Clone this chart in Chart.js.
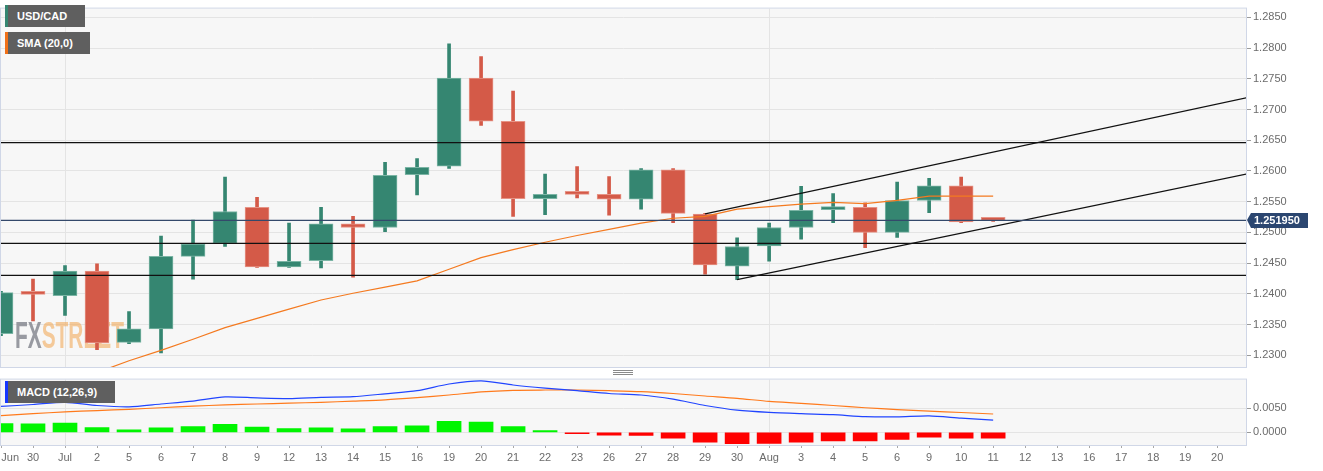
<!DOCTYPE html>
<html>
<head>
<meta charset="utf-8">
<script src="https://cdn.jsdelivr.net/npm/chart.js@4.4.1/dist/chart.umd.min.js"></script>
<style>
  body { margin: 0; background: #fff; }
  #wrap { position: relative; width: 1323px; height: 471px; overflow: hidden; }
  canvas { position: absolute; left: 0; }
  #main { top: 0; }
  #macd { top: 371px; }
  .tag {
    position: absolute; height: 22px; box-sizing: border-box;
    background: #5f5f5f; color: #fff; font: bold 11px "Liberation Sans", Arial, sans-serif;
    line-height: 22px; padding-left: 9px; border-left: 3px solid;
  }
</style>
</head>
<body>
<div id="wrap">
  <canvas id="main" width="1323" height="376"></canvas>
  <canvas id="macd" width="1323" height="100"></canvas>
  <div class="tag" style="left:5px;top:5px;width:80px;border-left-color:#358671">USD/CAD</div>
  <div class="tag" style="left:5px;top:32px;width:85px;border-left-color:#f07018">SMA (20,0)</div>
  <div class="tag" style="left:5px;top:381px;width:110px;border-left-color:#1536ff">MACD (12,26,9)</div>
</div>
<script>
// date labels along the bottom axis (one per trading day slot)
const dayLabels = ['Jun', '30', 'Jul', '2', '5', '6', '7', '8', '9', '12', '13', '14', '15', '16', '19', '20',
  '21', '22', '23', '26', '27', '28', '29', '30', 'Aug', '3', '4', '5', '6', '9', '10', '11', '12', '13',
  '16', '17', '18', '19', '20'];

// USD/CAD daily candles (Jun 29 .. Aug 11)
const opens  = [1.2335, 1.2402, 1.2397, 1.2437, 1.2321, 1.2343, 1.2461, 1.2482, 1.2541, 1.2444, 1.2454,
  1.2514, 1.2508, 1.2594, 1.2608, 1.2751, 1.2681, 1.2555, 1.2566, 1.2562, 1.2554, 1.2602, 1.2530, 1.2445,
  1.2478, 1.2508, 1.2537, 1.2541, 1.2500, 1.2552, 1.2576, 1.2521];
const highs  = [1.2404, 1.2424, 1.2446, 1.2449, 1.2371, 1.2494, 1.2520, 1.2590, 1.2557, 1.2515, 1.2541,
  1.2526, 1.2614, 1.2620, 1.2807, 1.2786, 1.2730, 1.2595, 1.2607, 1.2591, 1.2604, 1.2604, 1.2531, 1.2491,
  1.2515, 1.2575, 1.2563, 1.2548, 1.2582, 1.2588, 1.2590, 1.2522];
const lows   = [1.2332, 1.2356, 1.2365, 1.2309, 1.2319, 1.2304, 1.2424, 1.2477, 1.2443, 1.2443, 1.2442,
  1.2427, 1.2501, 1.2561, 1.2604, 1.2674, 1.2526, 1.2529, 1.2556, 1.2528, 1.2538, 1.2516, 1.2432, 1.2423,
  1.2453, 1.2489, 1.2516, 1.2475, 1.2492, 1.2532, 1.2516, 1.2518];
const closes = [1.2402, 1.2399, 1.2437, 1.2320, 1.2343, 1.2461, 1.2481, 1.2534, 1.2444, 1.2453, 1.2514,
  1.2508, 1.2593, 1.2606, 1.2751, 1.2681, 1.2555, 1.2562, 1.2562, 1.2554, 1.2602, 1.2531, 1.2447, 1.2477,
  1.2508, 1.2536, 1.2541, 1.2500, 1.2552, 1.2576, 1.2517, 1.25195];

// SMA (20)
const sma20 = [1.2255, 1.2260, 1.2266, 1.2272, 1.2291, 1.2308, 1.2326, 1.2345, 1.2360, 1.2375, 1.2390,
  1.2401, 1.2411, 1.2421, 1.2440, 1.2459, 1.2472, 1.2484, 1.2495, 1.2505, 1.2515, 1.2523, 1.2526, 1.2538,
  1.2542, 1.2546, 1.2549, 1.2547, 1.2552, 1.2559, 1.2559, 1.2559];

const lastPrice = 1.25195;
const levels = [1.2646, 1.2482, 1.2430];
// channel lines: [start index, start value, end index, end value]
const channelUpper = [22, 1.2530, 39, 1.2720];
const channelLower = [23, 1.2423, 39, 1.2596];

const priceTicks = [1.2300, 1.2350, 1.2400, 1.2450, 1.2500, 1.2550, 1.2600, 1.2650, 1.2700, 1.2750, 1.2800, 1.2850];

// MACD (12,26,9)
const macdLine = [0.00534, 0.00573, 0.00618, 0.00553, 0.00526, 0.00584, 0.00643, 0.00729, 0.00709, 0.00696,
  0.00721, 0.00734, 0.00793, 0.00857, 0.00994, 0.0106, 0.00974, 0.0091, 0.00857, 0.00799, 0.00768, 0.00682,
  0.00553, 0.00456, 0.0041, 0.00384, 0.00364, 0.00325, 0.0032, 0.00339, 0.00292, 0.00253];
const signalLine = [0.00345, 0.00384, 0.00423, 0.00448, 0.00475, 0.00507, 0.0054, 0.00565, 0.00584, 0.00602,
  0.00618, 0.00643, 0.0067, 0.00715, 0.00768, 0.00832, 0.00865, 0.00871, 0.00871, 0.00857, 0.00838, 0.00799,
  0.00748, 0.00701, 0.00637, 0.00598, 0.00553, 0.00507, 0.00468, 0.00436, 0.00409, 0.00378];
const histogram = [0.00183, 0.00175, 0.00189, 0.00097, 0.00053, 0.00092, 0.00117, 0.00164, 0.00111, 0.00078,
  0.00092, 0.00072, 0.00117, 0.00136, 0.00228, 0.00214, 0.00117, 0.00039, -0.00025, -0.00058, -0.00064,
  -0.00117, -0.00201, -0.00234, -0.00226, -0.00201, -0.00175, -0.00175, -0.00142, -0.00097, -0.00117, -0.00117];
const macdTicks = [0, 0.005];

const FONT = '"Liberation Sans", Arial, sans-serif';
const GREEN = '#358671', RED = '#d45a48';
const X_MIN = 0, X_MAX = 38.9;

const up = closes.map((c, i) => c >= opens[i]);
const xy = (arr) => arr.map((v, i) => ({ x: i, y: v }));

const panel = {
  id: 'panel',
  beforeDraw(chart) {
    const { ctx, chartArea: a } = chart;
    ctx.save();
    ctx.fillStyle = '#f7f7f7';
    ctx.fillRect(a.left, a.top, a.right - a.left, a.bottom - a.top);
    ctx.restore();
  },
  afterDraw(chart) {
    const { ctx, chartArea: a } = chart;
    ctx.save();
    ctx.strokeStyle = '#d0d7e7';
    ctx.lineWidth = 1;
    ctx.strokeRect(a.left - 0.5, a.top - 0.5, a.right - a.left + 1, a.bottom - a.top + 1);
    ctx.restore();
  }
};

const watermark = {
  id: 'watermark',
  beforeDatasetsDraw(chart) {
    const ctx = chart.ctx;
    ctx.save();
    ctx.font = 'bold 36px ' + FONT;
    ctx.textBaseline = 'alphabetic';
    ctx.translate(15, 348);
    ctx.scale(0.58, 1);
    ctx.fillStyle = 'rgba(135,137,146,0.85)';
    ctx.fillText('FX', 0, 0);
    const w = ctx.measureText('FX').width;
    ctx.fillStyle = 'rgba(242,170,90,0.6)';
    ctx.fillText('STREET', w, 0);
    ctx.restore();
  }
};

const priceTag = {
  id: 'priceTag',
  afterDraw(chart) {
    const { ctx, chartArea: a } = chart;
    const y = Math.round(chart.scales.y.getPixelForValue(lastPrice));
    const x = a.right + 4;
    ctx.save();
    ctx.fillStyle = '#2b4670';
    ctx.beginPath();
    ctx.moveTo(x - 3, y);
    ctx.lineTo(x + 1, y - 7);
    ctx.lineTo(x + 58, y - 7);
    ctx.lineTo(x + 58, y + 8);
    ctx.lineTo(x + 1, y + 8);
    ctx.closePath();
    ctx.fill();
    ctx.fillStyle = '#fff';
    ctx.font = 'bold 11px ' + FONT;
    ctx.textBaseline = 'middle';
    ctx.fillText(lastPrice.toFixed(6), x + 4, y + 1);
    // drag handle between panels
    ctx.strokeStyle = '#8a8a8a';
    ctx.lineWidth = 1;
    for (let k = 0; k < 3; k++) {
      ctx.beginPath();
      ctx.moveTo(613, 370.5 + k * 2);
      ctx.lineTo(633, 370.5 + k * 2);
      ctx.stroke();
    }
    ctx.restore();
  }
};

const flatLine = (v, color) => ({
  type: 'line', data: [{ x: -1, y: v }, { x: 40, y: v }],
  borderColor: color, borderWidth: 1.3, pointRadius: 0, order: 0
});
const segment = (s, color) => ({
  type: 'line', data: [{ x: s[0], y: s[1] }, { x: s[2], y: s[3] }],
  borderColor: color, borderWidth: 1.3, pointRadius: 0, order: 0
});

new Chart(document.getElementById('main'), {
  type: 'bar',
  data: {
    datasets: [
      ...levels.map(v => flatLine(v, '#111')),
      flatLine(lastPrice, '#34496b'),
      segment(channelUpper, '#111'),
      segment(channelLower, '#111'),
      {
        type: 'line', data: xy(sma20), borderColor: '#f47a20', borderWidth: 1.2,
        pointRadius: 0, tension: 0, order: 0
      },
      {
        data: opens.map((o, i) => ({ x: i, y: [o, closes[i]] })),
        backgroundColor: up.map(u => u ? GREEN : RED),
        borderColor: up.map(u => u ? '#7bb5a5' : '#e69486'),
        borderWidth: 1, borderSkipped: false, barThickness: 24, minBarLength: 3,
        grouped: false, order: 1
      },
      {
        data: lows.map((l, i) => ({ x: i, y: [l, highs[i]] })),
        backgroundColor: up.map(u => u ? GREEN : RED),
        borderWidth: 0, barThickness: 3, grouped: false, order: 2
      }
    ]
  },
  options: {
    responsive: false,
    animation: false,
    layout: { padding: { left: 1, top: 1, right: 0, bottom: 9 } },
    plugins: { legend: { display: false }, tooltip: { enabled: false } },
    scales: {
      x: {
        type: 'linear', min: X_MIN, max: X_MAX, bounds: 'data', offset: false,
        afterBuildTicks: s => { s.ticks = [{ value: 2 }, { value: 24 }]; },
        afterFit: s => { s.height = 0; s.paddingLeft = 0; s.paddingRight = 0; },
        ticks: { display: false },
        grid: { color: '#e4e4e4', drawTicks: false, offset: false },
        border: { display: false }
      },
      y: {
        position: 'right', min: 1.22809, max: 1.28643, bounds: 'data',
        afterBuildTicks: s => { s.ticks = priceTicks.map(v => ({ value: v })); },
        afterFit: s => { s.width = 77; },
        ticks: { callback: v => v.toFixed(4), color: '#6b6b6b', font: { size: 11, family: FONT }, padding: 2 },
        grid: { color: '#e4e4e4', tickColor: '#9a9a9a', tickLength: 5 },
        border: { color: '#cdd5e6' }
      }
    }
  },
  plugins: [panel, watermark, priceTag]
});

new Chart(document.getElementById('macd'), {
  type: 'bar',
  data: {
    datasets: [
      {
        type: 'line', data: xy(macdLine), borderColor: '#2145ff', borderWidth: 1.2,
        pointRadius: 0, tension: 0.25, order: 0
      },
      {
        type: 'line', data: xy(signalLine), borderColor: '#ff7a1c', borderWidth: 1.2,
        pointRadius: 0, tension: 0.25, order: 0
      },
      {
        data: xy(histogram),
        backgroundColor: histogram.map(v => v >= 0 ? '#00f500' : '#ff0000'),
        borderWidth: 0, barThickness: 24, grouped: false, order: 1
      }
    ]
  },
  options: {
    responsive: false,
    animation: false,
    layout: { padding: { left: 1, top: 5, right: 0, bottom: 0 } },
    plugins: { legend: { display: false }, tooltip: { enabled: false } },
    scales: {
      x: {
        type: 'linear', min: X_MIN, max: X_MAX, bounds: 'data', offset: false,
        afterBuildTicks: s => { s.ticks = dayLabels.map((_, i) => ({ value: i })); },
        afterFit: s => { s.height = 26; s.paddingLeft = 0; s.paddingRight = 0; },
        ticks: {
          callback: v => (v === 0 ? '      ' : '') + dayLabels[v],
          autoSkip: false, maxRotation: 0, color: '#6b6b6b',
          font: { size: 11, family: FONT }, padding: 3
        },
        grid: {
          color: c => (c.tick && (c.tick.value === 2 || c.tick.value === 24)) ? '#e4e4e4' : 'rgba(0,0,0,0)',
          tickColor: '#a8a8a8', tickLength: 3, offset: false
        },
        border: { color: '#cdd5e6' }
      },
      y: {
        position: 'right', min: -0.00259, max: 0.01085, bounds: 'data',
        afterBuildTicks: s => { s.ticks = macdTicks.map(v => ({ value: v })); },
        afterFit: s => { s.width = 77; },
        ticks: { callback: v => v.toFixed(4), color: '#6b6b6b', font: { size: 11, family: FONT }, padding: 2 },
        grid: { color: '#e4e4e4', tickColor: '#9a9a9a', tickLength: 5 },
        border: { color: '#cdd5e6' }
      }
    }
  },
  plugins: [panel]
});
</script>
</body>
</html>
